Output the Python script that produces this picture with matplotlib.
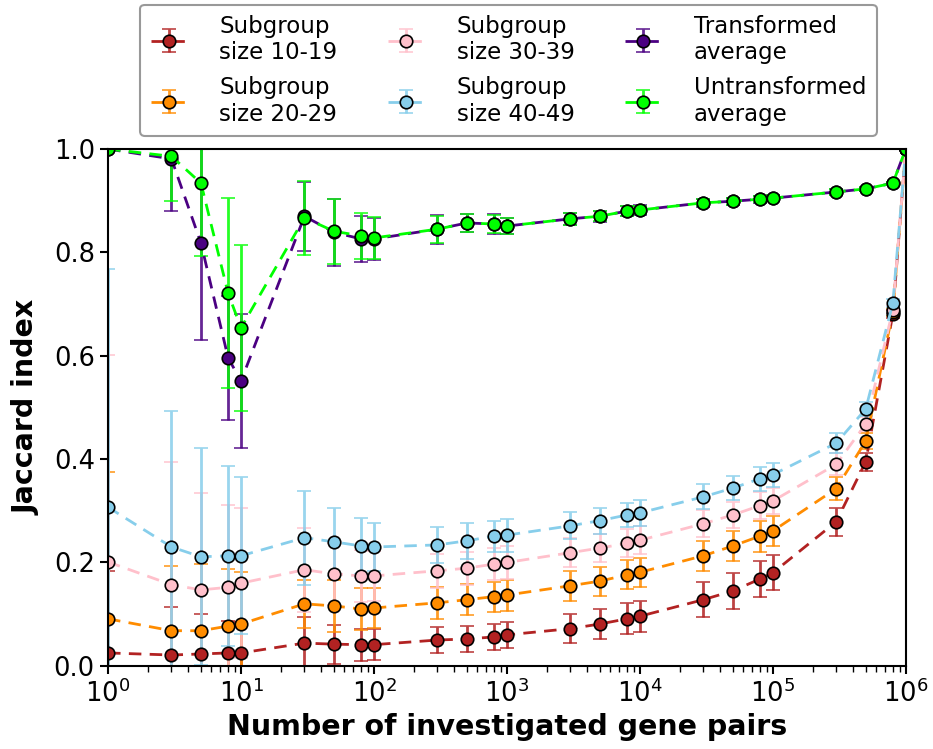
import matplotlib
matplotlib.use("Agg")
import matplotlib.pyplot as plt

# number of investigated gene pairs
pairs = [1, 3, 5, 8, 10, 30, 50, 80, 100, 300, 500, 800, 1000, 3000, 5000,
         8000, 10000, 30000, 50000, 80000, 100000, 300000, 500000, 800000, 1000000]

# Jaccard index per subgroup size
j_10_19 = [0.025, 0.021, 0.023, 0.025, 0.025, 0.044, 0.042, 0.041, 0.041, 0.050, 0.052, 0.056, 0.060,
           0.072, 0.081, 0.091, 0.096, 0.128, 0.145, 0.168, 0.180, 0.279, 0.395, 0.681, 1.0]
e_10_19 = [0.158, 0.093, 0.078, 0.062, 0.060, 0.050, 0.038, 0.031, 0.030, 0.025, 0.025, 0.025, 0.025,
           0.028, 0.029, 0.030, 0.030, 0.034, 0.035, 0.034, 0.034, 0.027, 0.017, 0.008, 0.0]

j_20_29 = [0.091, 0.068, 0.068, 0.077, 0.081, 0.120, 0.116, 0.110, 0.112, 0.122, 0.128, 0.134, 0.137,
           0.155, 0.164, 0.176, 0.181, 0.213, 0.232, 0.251, 0.261, 0.343, 0.435, 0.685, 1.0]
e_20_29 = [0.285, 0.125, 0.129, 0.110, 0.100, 0.046, 0.050, 0.040, 0.038, 0.031, 0.030, 0.029, 0.030,
           0.029, 0.028, 0.028, 0.028, 0.029, 0.029, 0.030, 0.029, 0.023, 0.015, 0.008, 0.0]

j_30_39 = [0.201, 0.157, 0.147, 0.152, 0.160, 0.186, 0.178, 0.174, 0.174, 0.184, 0.189, 0.197, 0.200,
           0.219, 0.228, 0.237, 0.243, 0.275, 0.292, 0.310, 0.319, 0.390, 0.468, 0.689, 1.0]
e_30_39 = [0.400, 0.238, 0.187, 0.159, 0.145, 0.081, 0.060, 0.050, 0.048, 0.033, 0.032, 0.031, 0.031,
           0.028, 0.027, 0.027, 0.027, 0.026, 0.026, 0.026, 0.026, 0.021, 0.014, 0.007, 0.0]

j_40_49 = [0.307, 0.230, 0.211, 0.213, 0.213, 0.248, 0.240, 0.232, 0.230, 0.234, 0.242, 0.251, 0.253,
           0.271, 0.281, 0.292, 0.296, 0.327, 0.344, 0.362, 0.370, 0.431, 0.497, 0.702, 1.0]
e_40_49 = [0.460, 0.263, 0.210, 0.174, 0.152, 0.091, 0.066, 0.054, 0.047, 0.035, 0.035, 0.030, 0.032,
           0.026, 0.025, 0.024, 0.025, 0.024, 0.024, 0.023, 0.023, 0.020, 0.013, 0.007, 0.0]

j_transformed = [1.0, 0.981, 0.818, 0.596, 0.551, 0.870, 0.839, 0.826, 0.826, 0.845, 0.857, 0.855, 0.851,
                 0.865, 0.870, 0.880, 0.882, 0.896, 0.899, 0.903, 0.905, 0.917, 0.923, 0.934, 1.0]
e_transformed = [0.0, 0.100, 0.188, 0.120, 0.130, 0.067, 0.065, 0.045, 0.040, 0.028, 0.018, 0.020, 0.016,
                 0.012, 0.011, 0.010, 0.009, 0.008, 0.007, 0.007, 0.006, 0.005, 0.004, 0.003, 0.0]

j_untransformed = [1.0, 0.986, 0.934, 0.721, 0.654, 0.867, 0.841, 0.832, 0.828, 0.845, 0.857, 0.855, 0.851,
                   0.865, 0.870, 0.880, 0.882, 0.896, 0.899, 0.903, 0.905, 0.917, 0.923, 0.934, 1.0]
e_untransformed = [0.0, 0.086, 0.141, 0.184, 0.160, 0.072, 0.063, 0.044, 0.040, 0.026, 0.017, 0.018, 0.015,
                   0.011, 0.010, 0.009, 0.008, 0.007, 0.007, 0.006, 0.006, 0.005, 0.004, 0.003, 0.0]

series = [
    (j_10_19, e_10_19, "firebrick", "Subgroup\nsize 10-19"),
    (j_20_29, e_20_29, "darkorange", "Subgroup\nsize 20-29"),
    (j_30_39, e_30_39, "pink", "Subgroup\nsize 30-39"),
    (j_40_49, e_40_49, "skyblue", "Subgroup\nsize 40-49"),
    (j_transformed, e_transformed, "indigo", "Transformed\naverage"),
    (j_untransformed, e_untransformed, "lime", "Untransformed\naverage"),
]

fig = plt.figure(figsize=(9.33, 7.49), dpi=100)
ax = fig.add_axes([0.1158, 0.111, 0.855, 0.690])

for vals, errs, col, lab in series:
    cont = ax.errorbar(pairs, vals, yerr=errs, color=col, linewidth=2,
                       marker="o", markersize=9, markeredgecolor="black", markeredgewidth=1.2,
                       capsize=5, capthick=1.6, elinewidth=2, label=lab)
    cont[0].set_dashes((4.5, 3))
    for c in cont[1]:
        c.set_alpha(0.85)
    for c in cont[2]:
        c.set_alpha(0.85)

ax.set_xscale("log")
ax.set_xlim(1, 1e6)
ax.set_ylim(0, 1.0)
ax.tick_params(axis="both", labelsize=18.5, width=1.5, length=6)
ax.tick_params(axis="x", which="minor", width=1, length=4)
for s in ax.spines.values():
    s.set_linewidth(1.5)
ax.set_xlabel("Number of investigated gene pairs", fontsize=20.5, fontweight="bold")
ax.set_ylabel("Jaccard index", fontsize=20.5, fontweight="bold")
ax.yaxis.set_label_coords(-0.084, 0.5)

handles, labels = ax.get_legend_handles_labels()
leg = fig.legend(handles, labels, loc="upper center", ncol=3, fontsize=16.5,
                 bbox_to_anchor=(0.545, 1.0), borderaxespad=0.2,
                 handlelength=1.6, handletextpad=1.4,
                 columnspacing=2.2, labelspacing=0.5, borderpad=0.45,
                 framealpha=1, edgecolor="#999999", fancybox=True)
leg.get_frame().set_linewidth(1.5)

fig.savefig("out.png", dpi=100)
